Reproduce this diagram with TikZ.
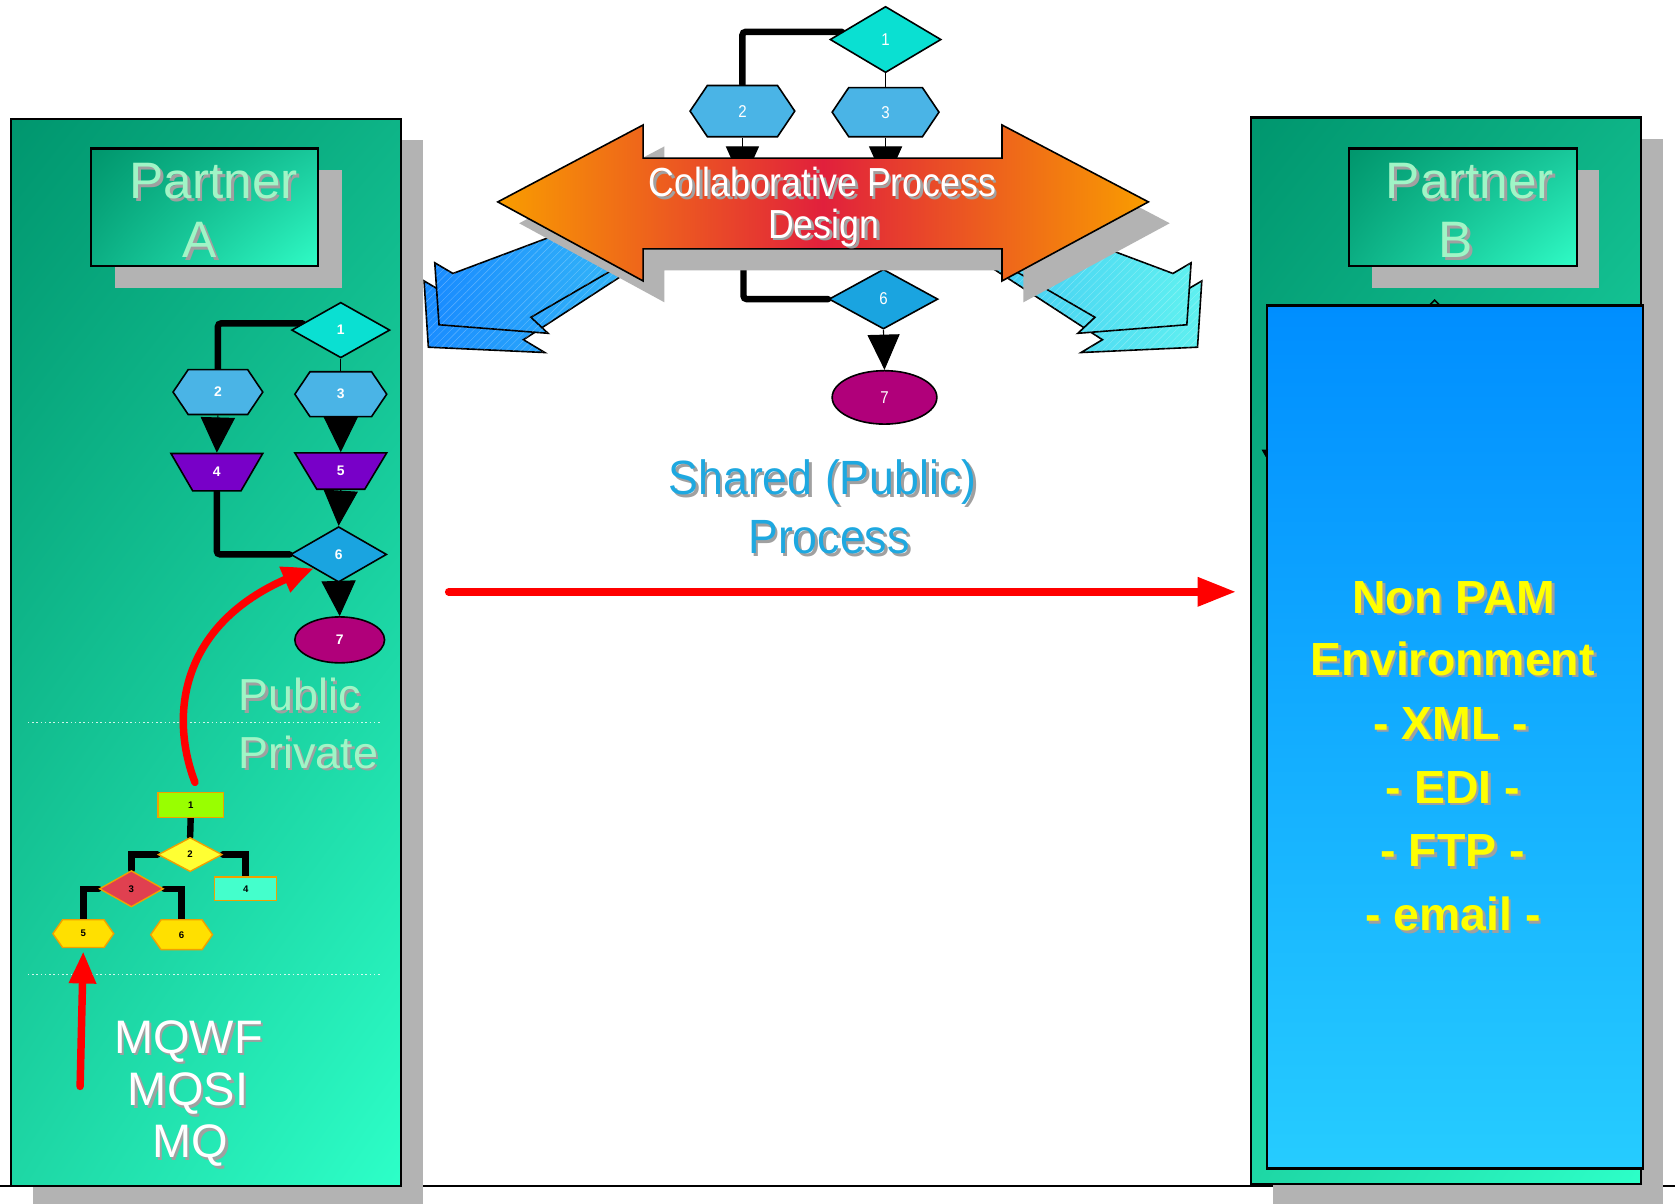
\documentclass[tikz,border=0pt]{standalone}
\usepackage{fontspec}
\setmainfont{Liberation Sans}
\newfontfamily\narrowfont[FakeStretch=0.88]{Liberation Sans}
\newfontfamily\semifont[FakeStretch=0.93]{Liberation Sans}
\usetikzlibrary{shapes.geometric,shapes.symbols,arrows.meta,patterns.meta,shadings,bending}
\pgfdeclarelayer{back}
\pgfdeclarelayer{conn}
\pgfsetlayers{back,conn,main}
\definecolor{pnlUL}{RGB}{0,150,110}
\definecolor{pnlUR}{RGB}{14,180,135}
\definecolor{pnlLL}{RGB}{30,215,165}
\definecolor{pnlLR}{RGB}{45,255,200}
\definecolor{ttlUL}{RGB}{0,150,108}
\definecolor{ttlUR}{RGB}{25,200,155}
\definecolor{ttlLL}{RGB}{12,175,132}
\definecolor{ttlLR}{RGB}{48,252,198}
\definecolor{shd}{RGB}{179,179,179}
\definecolor{tshd}{RGB}{160,160,160}
\definecolor{mint}{RGB}{160,245,198}
\definecolor{cyanA}{RGB}{10,224,210}
\definecolor{hexB}{RGB}{74,180,230}
\definecolor{purp}{RGB}{120,0,200}
\definecolor{blueD}{RGB}{26,164,224}
\definecolor{mag}{RGB}{176,0,122}
\definecolor{lime}{RGB}{153,255,0}
\definecolor{yel}{RGB}{255,255,51}
\definecolor{redd}{RGB}{224,64,80}
\definecolor{aqua}{RGB}{68,255,204}
\definecolor{gold}{RGB}{255,224,0}
\definecolor{orng}{RGB}{240,160,0}
\definecolor{arrO}{RGB}{249,157,0}
\definecolor{arrR}{RGB}{225,32,60}
\definecolor{blA}{RGB}{25,140,255}
\definecolor{blB}{RGB}{60,195,245}
\definecolor{blC}{RGB}{95,240,240}
\definecolor{rtop}{RGB}{0,142,255}
\definecolor{rbot}{RGB}{38,204,255}
\definecolor{shblue}{RGB}{30,168,224}
\definecolor{pyellow}{RGB}{255,255,0}
\newcommand\stx[4]{%
  \node[anchor=base, #1, text=tshd, xshift=2.5pt, yshift=-2.5pt] at (#3) {#4};
  \node[anchor=base, #1] (#2) at (#3) {#4};}
\begin{document}
\begin{tikzpicture}[x=1pt,y=-1pt,
  pnl/.style={draw=black, line width=2, upper left=pnlUL, upper right=pnlUR, lower left=pnlLL, lower right=pnlLR},
  ttl/.style={draw=black, line width=2, upper left=ttlUL, upper right=ttlUR, lower left=ttlLL, lower right=ttlLR},
  dotl/.style={white, line width=1, dash pattern=on 1.5pt off 2.5pt, opacity=0.8},
  dmd/.style={diamond, draw=black, line width=1.5, inner sep=0pt},
  hexa/.style={signal, signal to=west and east, signal pointer angle=112, draw=black, line width=1.5, inner sep=0pt},
  trap/.style={trapezium, trapezium stretches=true, shape border rotate=180, trapezium left angle=70, trapezium right angle=70, draw=black, line width=1.5, inner sep=0pt},
  ovl/.style={ellipse, draw=black, line width=1.5, inner sep=0pt},
  wnum/.style={font=\bfseries\fontsize{13}{13}\selectfont, text=white},
  cnum/.style={font=\narrowfont\fontsize{16}{16}\selectfont, text=white},
  prect/.style={rectangle, draw=orng, line width=1.3, inner sep=0pt, font=\bfseries\fontsize{9}{9}\selectfont},
  pdmd/.style={diamond, draw=orng, line width=1.3, inner sep=0pt, font=\bfseries\fontsize{9}{9}\selectfont},
  phex/.style={signal, signal to=west and east, signal pointer angle=110, draw=orng, line width=1.3, inner sep=0pt, font=\bfseries\fontsize{9}{9}\selectfont},
  thickc/.style={line width=6, rounded corners=3, line cap=round},
  thinc/.style={line width=1.2},
  tri/.style={line width=1, -{Triangle[length=33pt,width=32pt]}},
  pconn/.style={line width=6, line cap=round},
  redarr/.style={draw=red, line width=7, line cap=round},
  bluearr/.style={draw=black, line width=1.5, postaction={pattern={Lines[angle=45,distance=5pt,line width=0.4pt]}, pattern color=white, opacity=0.3}},
  ptxt/.style={font=\fontsize{48}{48}\selectfont, text=mint, inner sep=0pt},
  pubtxt/.style={font=\fontsize{42}{42}\selectfont, text=mint, inner sep=0pt, anchor=base west},
  mqtxt/.style={font=\fontsize{44}{44}\selectfont, text=white, inner sep=0pt},
  coltxt/.style={font=\narrowfont\fontsize{38}{38}\selectfont, text=white, inner sep=0pt},
  shtxt/.style={font=\semifont\fontsize{45}{45}\selectfont, text=shblue, inner sep=0pt},
  npam/.style={font=\bfseries\fontsize{43.5}{43.5}\selectfont, text=pyellow, inner sep=0pt}
]
\useasboundingbox (0,0) rectangle (1568,1127);
\begin{pgfonlayer}{back}
  \fill[white] (0,0) rectangle (1568,1127);
  \draw[line width=1.5] (0,1110) -- (1568,1110);
  % panel A
  \fill[shd] (31,131) rectangle (396,1130);
  \shade[pnl] (10,111) rectangle (375,1110);
  \fill[shd] (108,159) rectangle (320,270);
  \shade[ttl] (85,139) rectangle (298,249);
  \draw[dotl] (26,676) -- (356,676);
  \draw[dotl] (26,912) -- (356,912);
  % panel B
  \fill[shd] (1192,130) rectangle (1557,1130);
  \shade[pnl] (1171,110) rectangle (1536,1108);
  \fill[shd] (1284,159) rectangle (1497,270);
  \shade[ttl] (1263,139) rectangle (1476,249);
  \draw[line width=1.5] (1337,287) -- (1343,281) -- (1349,287);
  \shade[top color=rtop, bottom color=rbot, draw=black, line width=2.5] (1186,286) rectangle (1538,1094);
  \fill (1181,421) -- (1187,421) -- (1185,428) -- cycle;
  \draw[line width=3] (1273,1094) -- (1516,1094);
\end{pgfonlayer}

% ---- Partner texts
\stx{ptxt}{pa1}{200,186}{Partner}
\stx{ptxt}{pa2}{187,241}{A}
\stx{ptxt}{pb1}{1376,186}{Partner}
\stx{ptxt}{pb2}{1363,241}{B}

% ---- left public chart
\node[dmd, fill=cyanA, minimum width=92, minimum height=52, wnum] (a1) at (319,309) {1};
\node[hexa, fill=hexB, minimum width=84, minimum height=42, wnum] (a2) at (204,367) {2};
\node[hexa, fill=hexB, minimum width=86, minimum height=42, wnum] (a3) at (319,369) {3};
\node[trap, fill=purp, minimum width=86, minimum height=35, wnum] (a4) at (203,442) {4};
\node[trap, fill=purp, minimum width=86, minimum height=34, wnum] (a5) at (319,441) {5};
\node[dmd, fill=blueD, minimum width=90, minimum height=52, wnum] (a6) at (317,519) {6};
\node[ovl, fill=mag, minimum width=84, minimum height=43, wnum] (a7) at (318,599) {7};
\begin{pgfonlayer}{conn}
  \draw[thickc] (a1.170) -| (a2.north);
  \draw[thinc] (a1.south) -- (a3.north);
  \draw[thickc] (a4.south) |- (a6.west);
\end{pgfonlayer}
\draw[tri] (a2.south) -- (a4.north);
\draw[tri] (a3.south) -- (a5.north);
\draw[tri] (a5.south) -- (a6.north);
\draw[tri] (a6.south) -- (a7.north);

\stx{pubtxt}{pub}{223,665}{Public}
\stx{pubtxt}{priv}{223,719}{Private}

% ---- left private chart
\node[prect, fill=lime, minimum width=61, minimum height=23] (p1) at (178.5,753.5) {1};
\node[pdmd, fill=yel, minimum width=60, minimum height=32] (p2) at (178,800) {2};
\node[pdmd, fill=redd, minimum width=60, minimum height=34] (p3) at (123,832) {3};
\node[prect, fill=aqua, minimum width=58, minimum height=22] (p4) at (230,832) {4};
\node[phex, fill=gold, minimum width=57, minimum height=26] (p5) at (78,874) {5};
\node[phex, fill=gold, minimum width=58, minimum height=28] (p6) at (170,875) {6};
\begin{pgfonlayer}{conn}
  \draw[pconn] (p1.south) -- (p2.north);
  \draw[pconn] (p2.west) -| (p3.north);
  \draw[pconn] (p2.east) -| (p4.north);
  \draw[pconn] (p3.west) -| (p5.north);
  \draw[pconn] (p3.east) -| (p6.north);
\end{pgfonlayer}

% red arrows left
\coordinate (mqs) at (75,1017);
\draw[redarr, -{Triangle[length=30pt,width=24pt]}, shorten >=3pt] (mqs) -- (p5.south);
\draw[redarr, -{Triangle[length=30pt,width=24pt,bend]}] ([xshift=4pt,yshift=9pt]p1.north) .. controls (155,660) and (175,570) .. (a6.210);

\stx{mqtxt}{mq1}{176.5,986}{MQWF}
\stx{mqtxt}{mq2}{176,1035}{MQSI}
\stx{mqtxt}{mq3}{178,1084}{MQ}

% ---- central chart
\node[dmd, fill=cyanA, minimum width=104, minimum height=62, cnum] (c1) at (829,37) {1};
\node[hexa, fill=hexB, minimum width=98, minimum height=48, cnum] (c2) at (695,104) {2};
\node[hexa, fill=hexB, minimum width=100, minimum height=46, cnum] (c3) at (829,105) {3};
\node[dmd, fill=blueD, minimum width=102, minimum height=56, cnum] (c6) at (827,280) {6};
\node[ovl, fill=mag, minimum width=98, minimum height=50, cnum] (c7) at (828,372) {7};
\coordinate (c4) at (695,172);
\coordinate (c5) at (829,172);
\coordinate (cj) at (696,240);
\begin{pgfonlayer}{conn}
  \draw[thickc] (c1.170) -| (c2.north);
  \draw[thinc] (c1.south) -- (c3.north);
  \draw[tri, -{Triangle[length=35pt,width=31pt]}] (c2.south) -- (c4);
  \draw[tri, -{Triangle[length=35pt,width=31pt]}] (c3.south) -- (c5);
  \draw[thickc] (cj) |- (c6.west);
\end{pgfonlayer}
\draw[tri, -{Triangle[length=33pt,width=30pt]}] (c6.south) -- (c7.north);

% blue arrows
\shade[bluearr, left color=blA, right color=blB] (401,325) -- (397,263) -- (414,273) -- (600,205) -- (650,214) -- (490,318) -- (510,330) -- cycle;
\shade[bluearr, left color=blA, right color=blB] (411,304) -- (407,246) -- (424,256) -- (600,190) -- (640,214) -- (497,297) -- (513,312) -- cycle;
\shade[bluearr, left color=blB, right color=blC] (1121,325) -- (1125,263) -- (1108,273) -- (922,205) -- (872,214) -- (1032,318) -- (1012,330) -- cycle;
\shade[bluearr, left color=blB, right color=blC] (1111,304) -- (1115,246) -- (1098,256) -- (922,190) -- (882,214) -- (1025,297) -- (1009,312) -- cycle;

% big double arrow
\fill[shd] (486,209) -- (622,137) -- (622,168) -- (958,168) -- (958,137) -- (1095,209) -- (958,283) -- (958,253) -- (622,253) -- (622,283) -- cycle;
\shade[left color=arrO, right color=arrO, middle color=arrR, draw=black, line width=1.5] (466,189) -- (602,117) -- (602,148) -- (938,148) -- (938,117) -- (1075,189) -- (938,263) -- (938,233) -- (602,233) -- (602,263) -- cycle;
\stx{coltxt}{col1}{770,184}{Collaborative Process}
\stx{coltxt}{col2}{771,223}{Design}

% shared process
\stx{shtxt}{sh1}{770,463}{Shared (Public)}
\stx{shtxt}{sh2}{776,518}{Process}
\coordinate (rs) at (420,554);
\coordinate (re) at (1157,554);
\draw[redarr, -{Triangle[length=36pt,width=26pt]}] (rs) -- (re);

% Non PAM text
\stx{npam}{n1}{1361,574}{Non PAM}
\stx{npam}{n2}{1360,632}{Environment}
\stx{npam}{n3}{1358,692}{- XML -}
\stx{npam}{n4}{1360,752}{- EDI -}
\stx{npam}{n5}{1360,811}{- FTP -}
\stx{npam}{n6}{1360,871}{- email -}
\end{tikzpicture}
\end{document}
